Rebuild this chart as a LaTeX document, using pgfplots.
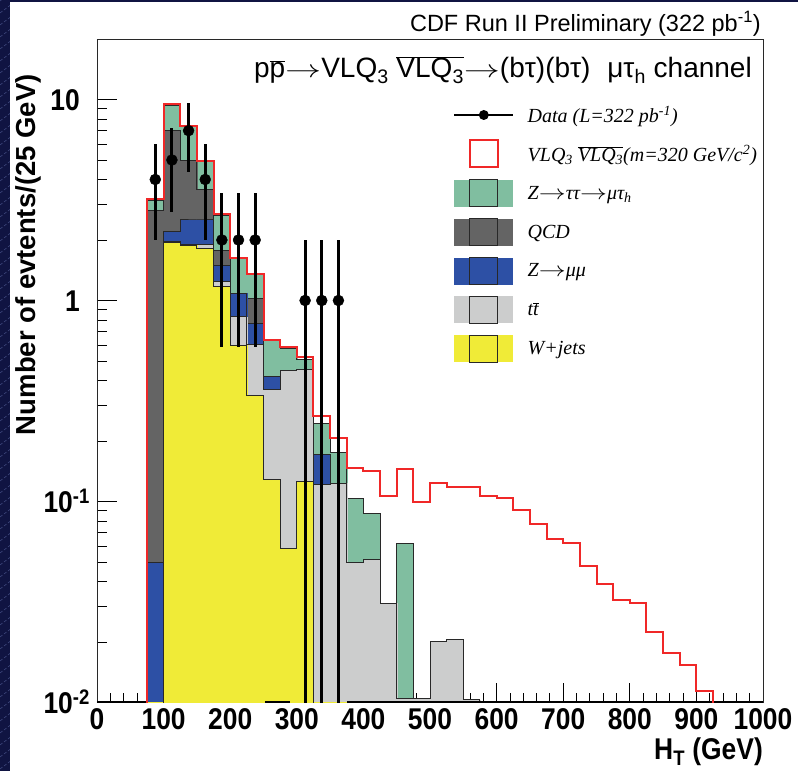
\documentclass[border=0pt]{standalone}
\usepackage{graphicx}
\usepackage{pgfplots}
\pgfplotsset{compat=1.18}
\usepackage{pgfplotstable}
\usepackage{fontspec}
\setmainfont{Liberation Sans}
\newfontfamily\condfont{Liberation Sans}[FakeStretch=0.88]
\newfontfamily\legfont{Liberation Serif}
\newcommand\arr{\scalebox{1.45}[1]{$\rightarrow$}}
\newcommand\larr{\scalebox{1.3}[1]{$\rightarrow$}}
\definecolor{navy}{RGB}{16,20,66}
\definecolor{navyline}{RGB}{70,80,135}
\definecolor{zttc}{RGB}{128,190,160}
\definecolor{qcdc}{RGB}{100,100,100}
\definecolor{zmmc}{RGB}{45,80,165}
\definecolor{ttc}{RGB}{204,205,205}
\definecolor{wjc}{RGB}{240,235,55}
\definecolor{sigc}{RGB}{240,40,40}
\definecolor{edgec}{RGB}{40,40,40}

\pgfplotstableread{
x W TT ZMM QCD ZTT
50 1e-4 1e-4 1e-4 1e-4 1e-4
75 1e-4 1e-4 0.05 2.80 3.15
100 1.95 1.96 2.20 7.05 9.3
125 1.88 1.89 2.515 4.96 7.3
150 1.81 1.89 2.515 3.57 4.90
175 1.18 1.24 1.50 1.78 2.64
200 0.60 0.83 1.086 1.086 1.62
225 0.335 0.607 0.77 1.026 1.34
250 0.128 0.362 0.418 0.418 0.63
275 0.0585 0.451 0.451 0.451 0.58
300 0.126 0.455 0.455 0.455 0.51
325 1e-4 0.122 0.171 0.171 0.243
350 1e-4 0.123 0.123 0.123 0.176
375 1e-4 0.050 0.050 0.050 0.1037
400 1e-4 0.0512 0.0512 0.0512 0.0874
425 1e-4 0.0312 0.0312 0.0312 0.0312
450 1e-4 0.0105 0.0105 0.0105 0.062
475 1e-4 0.0105 0.0105 0.0105 0.0105
500 1e-4 0.0201 0.0201 0.0201 0.0201
525 1e-4 0.0206 0.0206 0.0206 0.0206
550 1e-4 0.0103 0.0103 0.0103 0.0103
575 1e-4 1e-4 1e-4 1e-4 1e-4
}\stack

\pgfplotstableread{
x S
50 1e-4
75 3.2
100 9.47
125 7.38
150 4.96
175 2.68
200 1.63
225 1.35
250 0.636
275 0.59
300 0.526
325 0.266
350 0.206
375 0.146
400 0.142
425 0.106
450 0.145
475 0.0998
500 0.123
525 0.1186
550 0.1186
575 0.107
600 0.1045
625 0.0907
650 0.077
675 0.0649
700 0.062
725 0.0477
750 0.0387
775 0.0324
800 0.0312
825 0.0225
850 0.0177
875 0.0154
900 0.0114
925 1e-4
}\signal

\pgfplotstableread{
x y em
87.5 4 2
112.5 5 2.236
137.5 7 2.646
162.5 4 2
187.5 2 1.414
212.5 2 1.414
237.5 2 1.414
312.5 1 0.9999
337.5 1 0.9999
362.5 1 0.9999
}\data

\newcommand\legbox[1]{\addlegendimage{legend image code/.code={%
  \path[fill=#1, draw=none] (0pt,-13.5pt) rectangle (59pt,13.5pt);
  \path[draw=edgec, fill=none, line width=1pt] (15.5pt,-13.5pt) rectangle (43.5pt,13.5pt);}}}

\begin{document}
\begin{tikzpicture}
\useasboundingbox (0,0) rectangle (798pt,771pt);
\fill[navy] (0,0) rectangle (798pt,771pt);
\begin{scope}
\clip (0,0) rectangle (10pt,771pt);
\foreach \y in {-10,2,...,780} {
  \draw[navyline, line width=0.5pt, dash pattern=on 3pt off 2pt] (0,\y pt) -- (12pt,\y pt+9pt);
}
\end{scope}
\fill[white] (10pt,0) rectangle (798pt,769pt);

\begin{axis}[
  at={(97pt,68.5pt)}, anchor=south west,
  scale only axis, width=666pt, height=663.5pt,
  xmin=0, xmax=1000, ymode=log, ymin=0.01, ymax=20,
  log origin=infty,
  axis line style={edgec, line width=0.9pt},
  tick align=inside, tick pos=left,
  major tick length=20pt, minor tick length=10pt,
  tick style={black, line width=0.8pt},
  xtick={0,100,...,1000}, minor x tick num=4,
  xticklabels={0,100,200,300,400,500,600,700,800,900,1000},
  ytick={0.01,0.1,1,10},
  minor ytick={0.02,0.03,0.04,0.05,0.06,0.07,0.08,0.09,0.2,0.3,0.4,0.5,0.6,0.7,0.8,0.9,2,3,4,5,6,7,8,9,20},
  yticklabels={10\textsuperscript{-2},10\textsuperscript{-1},1\kern10pt,10\kern10pt},
  xticklabel style={font=\condfont\bfseries\fontsize{30}{30}\selectfont, inner sep=0pt, anchor=north, yshift=-6pt},
  yticklabel style={font=\condfont\bfseries\fontsize{30}{30}\selectfont, inner sep=0pt, anchor=base east, xshift=-7pt, yshift=-10.7pt},
  xlabel={H\textsubscript{T} (GeV)},
  xlabel style={at={(axis description cs:1,0)}, anchor=north east, yshift=-35.5pt, inner sep=0pt, font=\condfont\bfseries\fontsize{30}{30}\selectfont},
  ylabel={Number of evtents/(25 GeV)},
  ylabel style={at={(axis description cs:-0.1036,0.947)}, anchor=east, inner sep=0pt, font=\bfseries\fontsize{27.5}{27.5}\selectfont},
  legend style={at={(0.5345,0.9058)}, anchor=north west, draw=none, fill=none, inner sep=0pt, outer sep=0pt,
    font=\legfont\itshape\fontsize{20}{20}\selectfont, row sep=10.9pt,
    nodes={inner sep=0pt}, /tikz/column 1/.style={column sep=13pt}},
  legend cell align=left,
]
% stacked histograms, top cumulative first
\addplot[ybar interval, fill=zttc, draw=zttc, line width=0.2pt, forget plot] table[x=x,y=ZTT]{\stack};
\addplot[const plot mark left, draw=edgec, line width=1pt, forget plot] table[x=x,y=ZTT]{\stack};
\addplot[ybar interval, fill=qcdc, draw=qcdc, line width=0.2pt, forget plot] table[x=x,y=QCD]{\stack};
\addplot[const plot mark left, draw=edgec, line width=1pt, forget plot] table[x=x,y=QCD]{\stack};
\addplot[ybar interval, fill=zmmc, draw=zmmc, line width=0.2pt, forget plot] table[x=x,y=ZMM]{\stack};
\addplot[const plot mark left, draw=edgec, line width=1pt, forget plot] table[x=x,y=ZMM]{\stack};
\addplot[ybar interval, fill=ttc, draw=ttc, line width=0.2pt, forget plot] table[x=x,y=TT]{\stack};
\addplot[const plot mark left, draw=edgec, line width=1pt, forget plot] table[x=x,y=TT]{\stack};
\addplot[ybar interval, fill=wjc, draw=wjc, line width=0.2pt, forget plot] table[x=x,y=W]{\stack};
\addplot[const plot mark left, draw=edgec, line width=1pt, forget plot] table[x=x,y=W]{\stack};
% empty bins drawn on the lower edge
\addplot[black, line width=3pt, forget plot] coordinates {(0,0.01) (75,0.01)};
\addplot[black, line width=3pt, forget plot] coordinates {(252,0.01) (290,0.01)};
\addplot[black, line width=3pt, forget plot] coordinates {(375,0.01) (1000,0.01)};
% signal
\addplot[const plot mark left, draw=sigc, line width=2pt, forget plot] table[x=x,y=S]{\signal};
% data
\addplot[only marks, mark=*, mark size=5.5pt, mark options={fill=black, draw=black}, forget plot,
  error bars/.cd, y dir=both, y explicit, error mark=none,
  error bar style={line width=3pt, black}] table[x=x, y=y, y error=em]{\data};

% legend
\addlegendimage{legend image code/.code={%
  \path[draw=none, fill=none] (0pt,-13.5pt) rectangle (59pt,13.5pt);
  \path[draw=black, line width=2.7pt] (0pt,0pt) -- (59pt,0pt);
  \path[fill=black, draw=none] (29.5pt,0pt) circle (5pt);}}
\addlegendentry{Data (L=322 pb\textsuperscript{-1})}
\addlegendimage{legend image code/.code={%
  \path[draw=none, fill=none] (0pt,-13.5pt) rectangle (59pt,13.5pt);
  \path[draw=sigc, fill=none, line width=2pt] (15.5pt,-13.5pt) rectangle (43.5pt,13.5pt);}}
\addlegendentry{VLQ\textsubscript{3} $\overline{\mbox{VLQ\textsubscript{3}}}$(m=320 GeV/c\textsuperscript{2})}
\legbox{zttc}
\addlegendentry{Z\larr ττ\larr μτ\textsubscript{h}}
\legbox{qcdc}
\addlegendentry{QCD}
\legbox{zmmc}
\addlegendentry{Z\larr μμ}
\legbox{ttc}
\addlegendentry{t$\overline{\mbox{t}}$}
\legbox{wjc}
\addlegendentry{W+jets}
\end{axis}

\node[anchor=base east, inner sep=0pt, font=\fontsize{23.5}{23.5}\selectfont] at (761pt,739.3pt)
  {CDF Run II Preliminary (322 pb\textsuperscript{-1})};
\node[anchor=base east, inner sep=0pt, font=\fontsize{28}{28}\selectfont] at (752pt,693pt)
  {p$\overline{\mbox{p}}$\arr VLQ\textsubscript{3} $\overline{\mbox{VLQ\textsubscript{3}}}$\arr(bτ)(bτ)\hspace{0.6em}μτ\textsubscript{h} channel};
\end{tikzpicture}
\end{document}
